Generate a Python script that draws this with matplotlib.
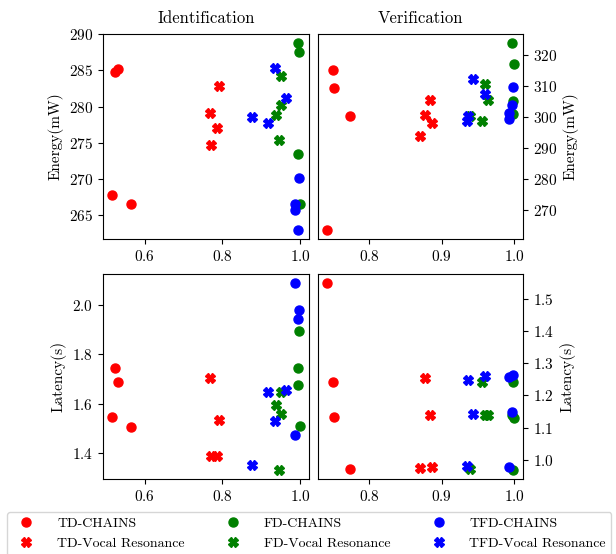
import matplotlib
matplotlib.use('Agg')
import matplotlib.pyplot as plt
from matplotlib.lines import Line2D

plt.rcParams['font.family'] = 'cmr10'
plt.rcParams['mathtext.fontset'] = 'cm'
plt.rcParams['axes.formatter.use_mathtext'] = True
plt.rcParams['font.size'] = 10

methods = ['TD', 'FD', 'TFD']
colors = {'TD': 'red', 'FD': 'green', 'TFD': 'blue'}

# Identification (left column)
id_x_chains = {
    'TD': [0.516, 0.522, 0.530, 0.5635],
    'FD': [0.995, 0.997, 0.996, 0.999],
    'TFD': [0.9976, 0.987, 0.986, 0.996],
}
id_energy_chains = {
    'TD': [267.8, 284.8, 285.2, 266.5],
    'FD': [288.75, 287.5, 273.4, 266.5],
    'TFD': [270.1, 266.6, 265.7, 263.0],
}
id_latency_chains = {
    'TD': [1.547, 1.744, 1.687, 1.508],
    'FD': [1.743, 1.895, 1.676, 1.509],
    'TFD': [1.980, 2.086, 1.473, 1.944],
}
id_x_vocal = {
    'TD': [0.792, 0.7675, 0.785, 0.770],
    'FD': [0.951, 0.952, 0.9385, 0.947],
    'TFD': [0.936, 0.963, 0.875, 0.917],
}
id_energy_vocal = {
    'TD': [282.9, 279.1, 277.1, 274.7],
    'FD': [284.3, 280.2, 278.8, 275.4],
    'TFD': [285.3, 281.2, 278.6, 277.8],
}
id_latency_vocal = {
    'TD': [1.535, 1.703, 1.391, 1.388],
    'FD': [1.646, 1.560, 1.596, 1.334],
    'TFD': [1.529, 1.657, 1.354, 1.648],
}

# Verification (right column)
ver_x_chains = {
    'TD': [0.750, 0.7516, 0.7737, 0.7424],
    'FD': [0.9968, 0.999, 0.9986, 0.9986],
    'TFD': [0.9986, 0.997, 0.993, 0.993],
}
ver_energy_chains = {
    'TD': [315.1, 309.3, 300.5, 263.5],
    'FD': [323.9, 317.3, 305.2, 301.1],
    'TFD': [309.8, 303.8, 301.4, 299.4],
}
ver_latency_chains = {
    'TD': [1.241, 1.132, 0.970, 1.548],
    'FD': [1.138, 1.130, 0.969, 1.242],
    'TFD': [1.263, 1.149, 1.257, 0.977],
}
ver_x_vocal = {
    'TD': [0.8843, 0.877, 0.886, 0.8705],
    'FD': [0.960, 0.963, 0.9387, 0.9558],
    'TFD': [0.9433, 0.959, 0.9364, 0.935],
}
ver_energy_vocal = {
    'TD': [305.4, 300.6, 298.1, 293.8],
    'FD': [310.8, 305.4, 300.3, 298.6],
    'TFD': [312.4, 307.6, 300.3, 298.7],
}
ver_latency_vocal = {
    'TD': [1.138, 1.253, 0.976, 0.973],
    'FD': [1.138, 1.138, 0.971, 1.242],
    'TFD': [1.142, 1.259, 1.247, 0.979],
}

id_xticks = [0.6, 0.8, 1.0]
ver_xticks = [0.8, 0.9, 1.0]
id_energy_ticks = [265, 270, 275, 280, 285, 290]
ver_energy_ticks = [270, 280, 290, 300, 310, 320]
id_latency_ticks = [1.4, 1.6, 1.8, 2.0]
ver_latency_ticks = [1.0, 1.1, 1.2, 1.3, 1.4, 1.5]


def draw(ax, xc, yc, xv, yv):
    for m in methods:
        ax.plot(xc[m], yc[m], 'o', color=colors[m], ms=6.5, ls='none')
        ax.plot(xv[m], yv[m], 'X', color=colors[m], ms=6.5, ls='none')
    ax.tick_params(labelsize=11)


fig = plt.figure(figsize=(6.16, 5.54), dpi=100)
ax1 = fig.add_axes([0.1672, 0.5686, 0.3344, 0.370])
ax2 = fig.add_axes([0.5162, 0.5686, 0.3328, 0.370])
ax3 = fig.add_axes([0.1672, 0.1354, 0.3344, 0.370])
ax4 = fig.add_axes([0.5162, 0.1354, 0.3328, 0.370])

draw(ax1, id_x_chains, id_energy_chains, id_x_vocal, id_energy_vocal)
draw(ax2, ver_x_chains, ver_energy_chains, ver_x_vocal, ver_energy_vocal)
draw(ax3, id_x_chains, id_latency_chains, id_x_vocal, id_latency_vocal)
draw(ax4, ver_x_chains, ver_latency_chains, ver_x_vocal, ver_latency_vocal)

ax1.set_title('Identification', pad=8)
ax2.set_title('Verification', pad=8)
ax1.set_ylabel('Energy(mW)', fontsize=11)
ax3.set_ylabel('Latency(s)', fontsize=11)
for ax in (ax2, ax4):
    ax.yaxis.tick_right()
    ax.yaxis.set_label_position('right')
ax2.set_ylabel('Energy(mW)', fontsize=11)
ax4.set_ylabel('Latency(s)', fontsize=11)

ax1.set_xticks(id_xticks)
ax3.set_xticks(id_xticks)
ax2.set_xticks(ver_xticks)
ax4.set_xticks(ver_xticks)
ax1.set_yticks(id_energy_ticks)
ax2.set_yticks(ver_energy_ticks)
ax3.set_yticks(id_latency_ticks)
ax4.set_yticks(ver_latency_ticks)

handles = []
labels = []
for m in methods:
    handles.append(Line2D([], [], marker='o', color=colors[m], ls='none', ms=6.5))
    labels.append(m + '-CHAINS')
    handles.append(Line2D([], [], marker='X', color=colors[m], ls='none', ms=6.5))
    labels.append(m + '-Vocal Resonance')
fig.legend(handles, labels, ncol=3, loc='upper left',
           bbox_to_anchor=(0.0114, 0.0758), fontsize=10,
           columnspacing=2.5, handletextpad=1.2, borderaxespad=0)

fig.savefig('out.png', dpi=100)
